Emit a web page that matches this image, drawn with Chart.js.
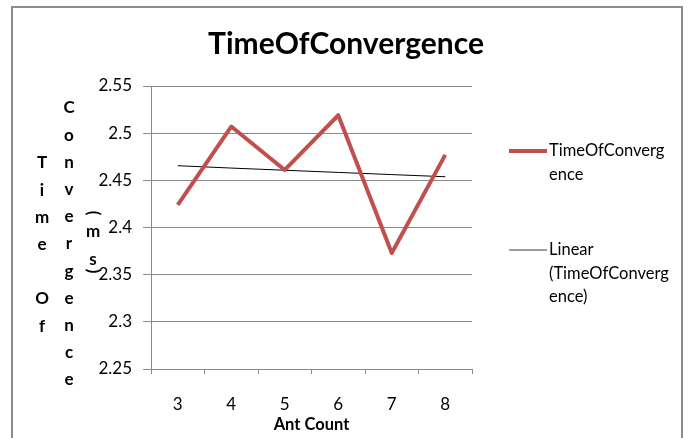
<!DOCTYPE html>
<html>
<head>
<meta charset="utf-8">
<script src="https://cdn.jsdelivr.net/npm/chart.js@4.4.1/dist/chart.umd.min.js"></script>
<style>
    body { margin: 0; background: #ffffff; }
    #wrap { position: relative; width: 688px; height: 438px; overflow: hidden; }
    #frame {
        position: absolute; left: 11px; top: 6px; width: 668px; height: 500px;
        border: 2px solid #8c8c8c; border-bottom: none;
    }
    #chart { position: absolute; left: 0; top: 0; }
</style>
</head>
<body>
<div id="wrap">
    <div id="frame"></div>
    <canvas id="chart" width="688" height="438"></canvas>
</div>
<script>
// ================= DATA =================
const antCounts = ["3", "4", "5", "6", "7", "8"];
const timeOfConvergence = [2.424, 2.507, 2.461, 2.519, 2.373, 2.477];
const linearTrend = [2.4655, 2.463, 2.4607, 2.4584, 2.4561, 2.4538];
const yTicks = [2.25, 2.3, 2.35, 2.4, 2.45, 2.5, 2.55];

const chartTitle = "TimeOfConvergence";
const xTitle = "Ant Count";
// stacked y-axis title, one column per array
const yTitleColumns = [
    ["T", "i", "m", "e", " ", "O", "f"],
    ["C", "o", "n", "v", "e", "r", "g", "e", "n", "c", "e"],
    ["(", "m", "s", ")"]
];
const legendLines = [
    ["TimeOfConverg", "ence"],
    ["Linear", "(TimeOfConverg", "ence)"]
];

const FONT = "Lato, 'Open Sans', sans-serif";
const RED = "#c0504d";
const GRID = "#8a8a8a";

// ================= CUSTOM TEXT PLUGIN =================
const excelText = {
    id: "excelText",
    afterDraw(chart) {
        const ctx = chart.ctx;
        const area = chart.chartArea;
        ctx.save();
        ctx.fillStyle = "#000000";
        ctx.textAlign = "center";
        ctx.textBaseline = "middle";

        // title
        ctx.font = "bold 30px " + FONT;
        ctx.fillText(chartTitle, 346, 44);

        // y title, stacked characters
        ctx.font = "bold 17px " + FONT;
        const colX = [42, 69, 93];
        const colStart = [163, 108, 213];
        const step = 27.2;
        yTitleColumns.forEach((col, ci) => {
            let y = colStart[ci];
            col.forEach((ch) => {
                if (ch === "(" || ch === ")") {
                    ctx.save();
                    ctx.translate(colX[ci], y);
                    ctx.rotate(Math.PI / 2);
                    ctx.fillText(ch, 0, 0);
                    ctx.restore();
                    y += ch === "(" ? 19 : 0;
                } else {
                    ctx.fillText(ch, colX[ci], y);
                    y += ci === 2 ? (ch === "m" ? 28 : 11) : step;
                }
            });
        });

        // legend
        ctx.textAlign = "left";
        ctx.font = "16.5px " + FONT;
        const starts = [area.top + 65, area.top + 164];
        const lineH = 23.5;
        chart.data.datasets.forEach((ds, i) => {
            const y0 = starts[i];
            ctx.strokeStyle = i === 0 ? RED : "#7f7f7f";
            ctx.lineWidth = i === 0 ? 4 : 1.5;
            ctx.beginPath();
            ctx.moveTo(509, y0);
            ctx.lineTo(547, y0);
            ctx.stroke();
            legendLines[i].forEach((t, li) => {
                ctx.fillText(t, 549, y0 + li * lineH);
            });
        });
        ctx.restore();
    }
};

// ================= CHART =================
const convergenceChart = new Chart(document.getElementById("chart"), {
    type: "line",

    data: {
        labels: antCounts,

        datasets: [
            {
                label: "TimeOfConvergence",
                data: timeOfConvergence,
                borderColor: RED,
                backgroundColor: "transparent",
                borderWidth: 4,
                borderJoinStyle: "round",
                tension: 0,
                pointRadius: 0
            },
            {
                label: "Linear (TimeOfConvergence)",
                data: linearTrend,
                borderColor: "#000000",
                backgroundColor: "transparent",
                borderWidth: 1,
                tension: 0,
                pointRadius: 0
            }
        ]
    },

    plugins: [excelText],

    options: {
        responsive: false,
        animation: false,
        events: [],

        layout: {
            padding: { top: 86, right: 216, left: 0, bottom: 0 }
        },

        plugins: {
            legend: { display: false },
            title: { display: false },
            tooltip: { enabled: false }
        },

        scales: {
            x: {
                offset: true,
                afterFit(scale) { scale.height = 69; },
                grid: {
                    offset: true,
                    drawOnChartArea: false,
                    tickLength: 5,
                    color: GRID
                },
                border: { color: GRID },
                ticks: {
                    color: "#000000",
                    padding: 20,
                    font: { family: FONT, size: 17 }
                },
                title: {
                    display: true,
                    text: xTitle,
                    color: "#000000",
                    padding: { top: 0, bottom: 3 },
                    font: { family: FONT, size: 16.5, weight: "bold" }
                }
            },

            y: {
                min: 2.25,
                max: 2.55,
                afterFit(scale) { scale.width = 151; },
                afterBuildTicks(scale) {
                    scale.ticks = yTicks.map((v) => ({ value: v }));
                },
                grid: {
                    tickLength: 8,
                    color: GRID
                },
                border: { color: GRID },
                ticks: {
                    color: "#000000",
                    padding: 11,
                    font: { family: FONT, size: 17 },
                    callback: (v) => String(Number(v.toFixed(2)))
                }
            }
        }
    }
});
</script>
</body>
</html>
